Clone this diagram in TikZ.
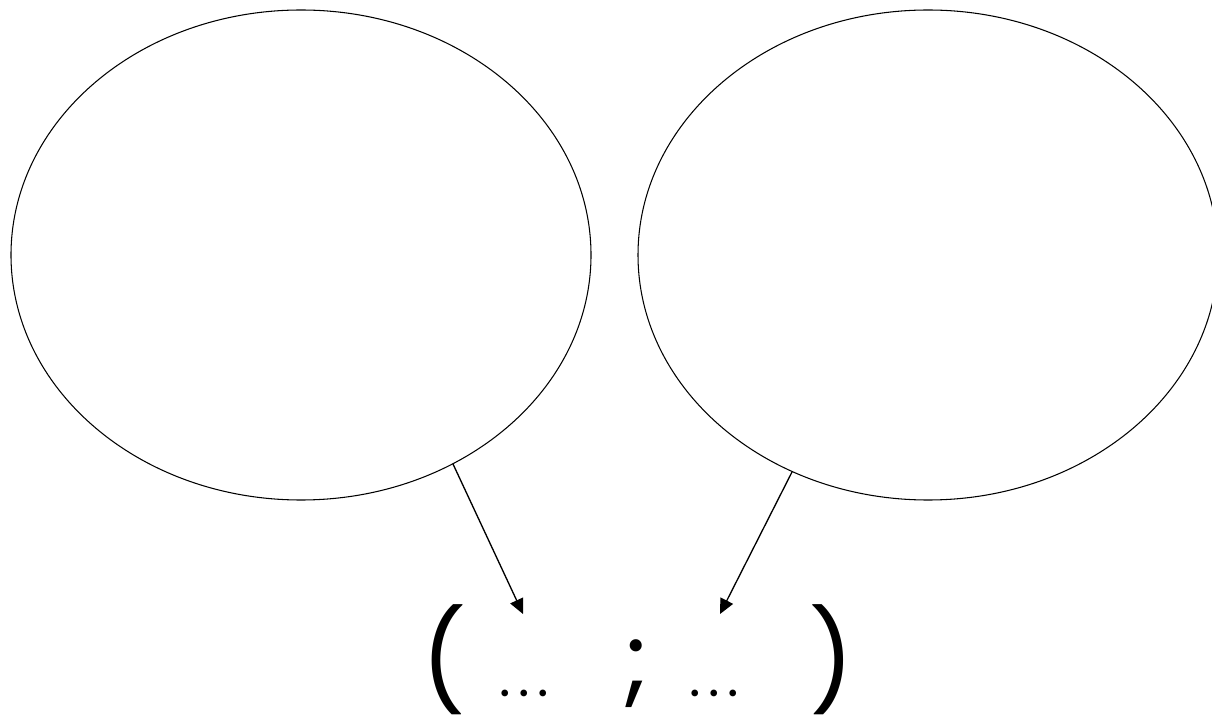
\documentclass[tikz,border=0pt]{standalone}
\usepackage{fontspec}
\setmainfont{Poppins}
\usetikzlibrary{arrows.meta}
\newcommand\threedots{.\kern4.2pt.\kern4.2pt.}
\begin{document}
\begin{tikzpicture}[x=0.02cm,y=-0.02cm,
  bubble/.style={draw=black, line width=0.6pt},
  link/.style={draw=black, line width=0.75pt, -{Triangle[length=0.3cm,width=0.28cm]}},
  glyph/.style={inner sep=0pt, anchor=base, font=\fontsize{56}{60}\selectfont},
  dots/.style={inner sep=0pt, anchor=base, font=\fontsize{31}{34}\selectfont}]
\useasboundingbox (0,0) rectangle (1212,722);
\draw[bubble] (301,255) ellipse [x radius=290, y radius=245];
\draw[bubble] (928,255) ellipse [x radius=290, y radius=245];
\coordinate (s1) at (453,464);
\coordinate (s2) at (792,472);
\node[glyph] (lp) at (444,696) {(};
\node[glyph] (semi) at (636,693) {;};
\node[glyph] (rp) at (832,696) {)};
\node[dots] (d1) at (524,696) {\threedots};
\node[dots] (d2) at (714,696) {\threedots};
\coordinate (t1) at (523,614);
\coordinate (t2) at (720,614);
\draw[link] (s1) -- (t1);
\draw[link] (s2) -- (t2);
\end{tikzpicture}
\end{document}
